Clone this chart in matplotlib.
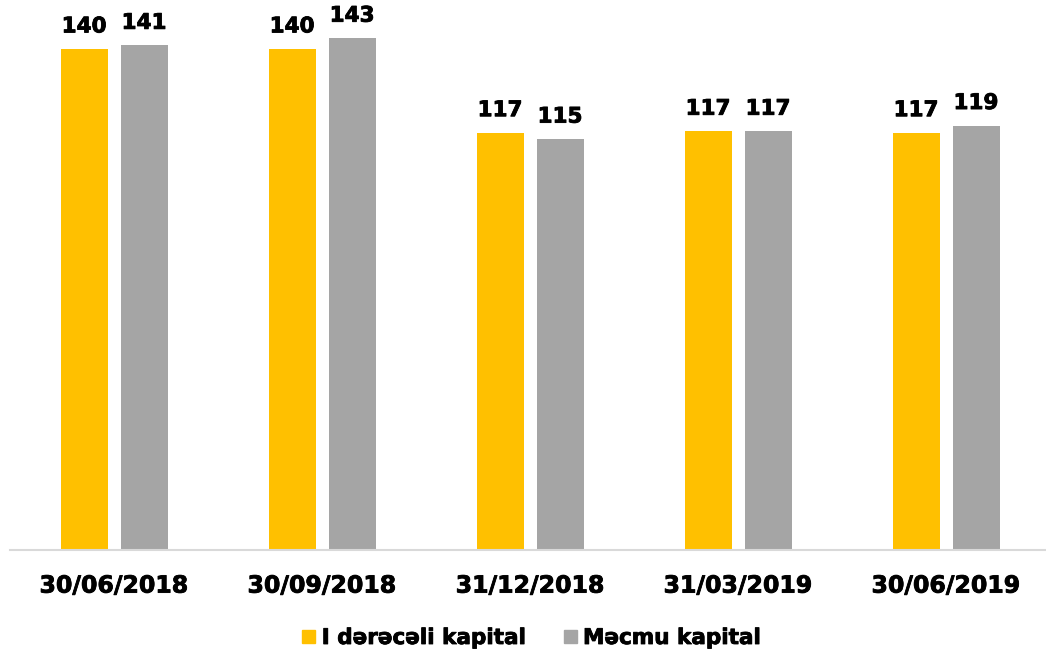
import matplotlib.pyplot as plt
import matplotlib.patheffects as pe
import numpy as np
from matplotlib.patches import Patch

plt.rcParams['font.family'] = ['DejaVu Sans']

dates = ['30/06/2018', '30/09/2018', '31/12/2018', '31/03/2019', '30/06/2019']
tier1 = [140.0, 140.0, 116.6, 117.0, 116.6]
total = [141.0, 143.0, 114.8, 117.0, 118.6]
series_names = ['I dərəcəli kapital', 'Məcmu kapital']
colors = ['#FFC000', '#A5A5A5']

# thicker strokes so DejaVu bold looks closer to Verdana bold
heavy = [pe.withStroke(linewidth=0.6, foreground='black')]

fig = plt.figure(figsize=(10.46, 6.57), dpi=100)
ax = fig.add_axes([10 / 1046, 1 - 550 / 657, 1036 / 1046, 550 / 657])

x = np.arange(len(dates))
w = 47 / 208
off = 30 / 208
b1 = ax.bar(x - off, tier1, w, color=colors[0])
b2 = ax.bar(x + off, total, w, color=colors[1])

for bars, vals in [(b1, tier1), (b2, total)]:
    for bar, v in zip(bars, vals):
        ax.annotate(f'{v:.0f}', (bar.get_x() + bar.get_width() / 2, v),
                    xytext=(0, 9), textcoords='offset points',
                    ha='center', va='bottom', fontsize=15.5, fontweight='bold',
                    path_effects=heavy)

ax.set_xlim(-0.5, -0.5 + 1036 / 208)
ax.set_ylim(0, 550 / 3.579)
ax.set_xticks(x)
ax.set_xticklabels(dates, fontsize=17, fontweight='bold')
for t in ax.get_xticklabels():
    t.set_path_effects(heavy)
ax.tick_params(axis='x', length=0, pad=17)
ax.set_yticks([])
for s in ['top', 'right', 'left']:
    ax.spines[s].set_visible(False)
ax.spines['bottom'].set_color('#D9D9D9')
ax.spines['bottom'].set_linewidth(1.5)

handles = [Patch(color=c) for c in colors]
leg = fig.legend(handles, series_names, loc='center', bbox_to_anchor=(0.508, 1 - 638 / 657),
                 ncol=2, frameon=False, prop={'size': 15.5, 'weight': 'bold'},
                 handlelength=0.6, handleheight=0.6, handletextpad=0.3, columnspacing=1.8)
for t in leg.get_texts():
    t.set_path_effects(heavy)

fig.savefig('out.png', dpi=100)
